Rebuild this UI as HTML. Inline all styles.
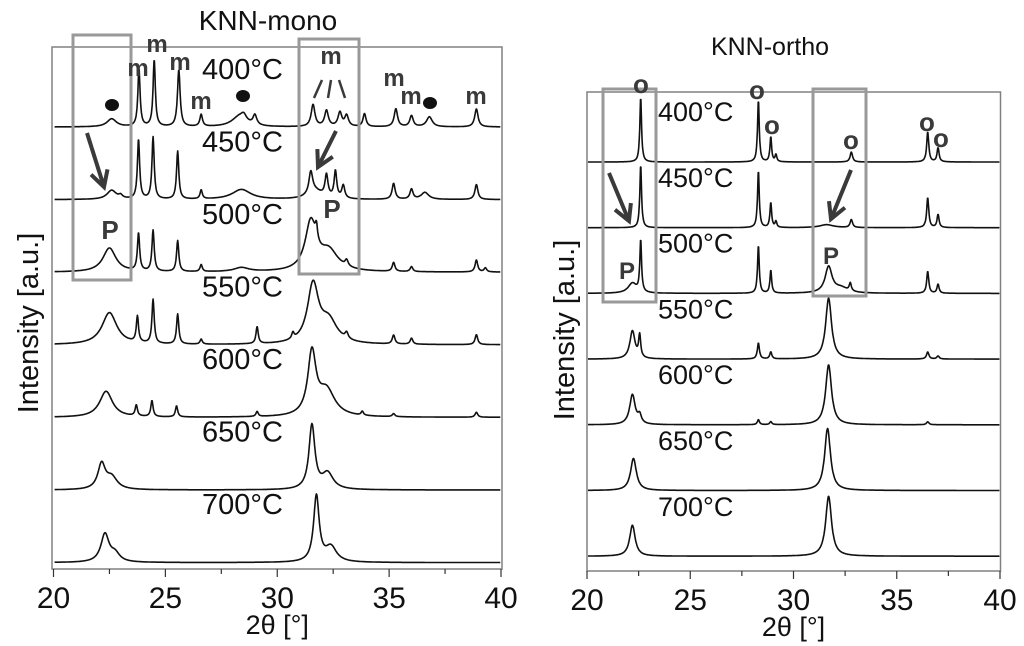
<!DOCTYPE html>
<html><head><meta charset="utf-8"><style>
html,body{margin:0;padding:0;background:#fff;}
svg{display:block;font-family:"Liberation Sans",sans-serif;}
</style></head><body>
<svg id="chart" width="1024" height="646" viewBox="0 0 1024 646" xmlns="http://www.w3.org/2000/svg">
<g id="left"></g>
<g id="right"></g>
</svg>
<script>
// ---- data ----
const xTicks = [20, 25, 30, 35, 40];
const tempLabels = ["400°C", "450°C", "500°C", "550°C", "600°C", "650°C", "700°C"];
// peaks: [2theta, height, halfwidth]
const monoPeaks = [
  [[22.6,8,0.25],[23.82,58,0.06],[24.5,67,0.06],[25.6,57,0.07],[26.6,12,0.07],[28.3,10,0.4],[28.5,6,0.15],[29.0,10,0.1],[31.6,22,0.1],[32.2,16,0.1],[32.8,14,0.1],[33.1,11,0.1],[33.9,13,0.08],[35.3,18,0.09],[36.0,11,0.09],[36.8,10,0.15],[38.9,18,0.09]],
  [[22.6,9,0.25],[23.0,3,0.1],[23.8,60,0.06],[24.45,62,0.06],[25.55,48,0.06],[26.6,9,0.06],[28.4,10,0.5],[31.5,22,0.1],[31.7,8,0.4],[32.2,22,0.08],[32.6,27,0.07],[32.95,13,0.08],[35.2,16,0.08],[36.0,10,0.08],[36.6,7,0.2],[38.9,15,0.08]],
  [[22.5,24,0.35],[23.8,38,0.06],[24.45,41,0.06],[25.55,31,0.06],[26.6,7,0.06],[28.4,4,0.4],[31.5,48,0.3],[31.75,14,0.06],[32.3,20,0.5],[33.1,6,0.08],[35.2,9,0.07],[36.0,5,0.07],[38.9,12,0.07],[39.3,4,0.07]],
  [[22.5,32,0.4],[23.75,26,0.06],[24.45,44,0.06],[25.55,30,0.06],[26.6,5,0.06],[29.1,17,0.06],[30.7,6,0.06],[31.6,58,0.3],[32.3,22,0.45],[33.1,6,0.08],[35.2,9,0.07],[36.0,6,0.07],[38.9,10,0.07]],
  [[22.35,26,0.35],[23.7,11,0.06],[24.4,16,0.06],[25.5,11,0.06],[29.1,5,0.06],[31.55,62,0.22],[32.2,26,0.45],[33.8,4,0.06],[35.2,3,0.07],[38.9,5,0.07]],
  [[22.15,25,0.2],[22.6,12,0.3],[31.55,64,0.16],[32.25,16,0.3]],
  [[22.3,28,0.22],[22.75,8,0.25],[31.75,66,0.15],[32.4,15,0.3]]
];
const orthoPeaks = [
  [[22.6,65,0.05],[28.3,62,0.05],[28.9,25,0.05],[29.15,7,0.05],[32.8,10,0.07],[36.5,30,0.06],[37.0,14,0.06]],
  [[22.6,63,0.05],[28.3,57,0.05],[28.9,25,0.05],[29.15,6,0.05],[31.6,3,0.4],[32.8,8,0.07],[36.5,30,0.06],[37.0,13,0.06]],
  [[22.6,52,0.05],[22.2,10,0.25],[28.3,48,0.05],[28.9,23,0.05],[31.7,26,0.2],[32.3,5,0.4],[32.75,8,0.06],[36.5,22,0.06],[37.0,9,0.06]],
  [[22.2,28,0.15],[22.55,22,0.06],[28.3,16,0.06],[28.9,7,0.06],[31.7,61,0.17],[36.5,7,0.07],[37.0,3,0.07]],
  [[22.2,30,0.16],[22.55,8,0.1],[28.3,5,0.06],[28.9,3,0.06],[31.7,60,0.17],[36.5,3,0.07]],
  [[22.25,32,0.17],[31.65,62,0.17]],
  [[22.2,31,0.16],[31.7,60,0.17]]
];

// ---- drawing ----
const NS = "http://www.w3.org/2000/svg";
function mk(parent, tag, attrs, text){
  const e = document.createElementNS(NS, tag);
  for (const k in attrs) e.setAttribute(k, attrs[k]);
  if (text !== undefined) e.textContent = text;
  parent.appendChild(e);
  return e;
}
function profile(peaks, x){
  let y = 0;
  for (const p of peaks){ const d = (x - p[0]) / p[2]; y += p[1] / (1 + d*d); }
  return y;
}
function panel(g, cfg, peaksList){
  const xs = v => cfg.x0 + (v - 20) / 20 * (cfg.x1 - cfg.x0);
  const frame = mk(g, "rect", {x:cfg.bx0, y:cfg.by0, width:cfg.bx1-cfg.bx0, height:cfg.by1-cfg.by0, fill:"none", stroke:"#808080", "stroke-width":1.5});
  
  
  for (let t = 20; t <= 40; t += 2.5){
    const major = xTicks.includes(t);
    const tk = mk(g, "line", {x1:xs(t), x2:xs(t), y1:cfg.by1, y2:cfg.by1 + (major?8:5), stroke:"#333", "stroke-width":1.2});
    
    
  }
  xTicks.forEach(t => {
    const tl = mk(g, "text", {x:xs(t), y:cfg.by1+39, "text-anchor":"middle", "font-size":30, fill:"#111"}, String(t));
    
    
  });
  const xt = mk(g, "text", {x:(cfg.x0+cfg.x1)/2, y:cfg.by1+65, "text-anchor":"middle", "font-size":27, fill:"#111"}, "2θ [°]");
  
  
  const yt = mk(g, "text", {x:0, y:0, transform:`translate(${cfg.ytx},${cfg.yty}) rotate(-90)`, "text-anchor":"middle", "font-size":29, fill:"#111"}, "Intensity [a.u.]");
  
  
  const tt = mk(g, "text", {x:cfg.titleX, y:cfg.titleY, "text-anchor":"middle", "font-size":cfg.titleSize, fill:"#111"}, cfg.title);
  
  
  peaksList.forEach((peaks, i) => {
    const base = cfg.base0 + i * cfg.step;
    let d = "";
    for (let v = 20.05; v <= 39.98; v += 0.02){
      const y = base - profile(peaks, v);
      d += (d ? "L" : "M") + xs(v).toFixed(1) + "," + y.toFixed(1);
    }
    const pth = mk(g, "path", {d:d, fill:"none", stroke:"#111", "stroke-width":1.6, "stroke-linejoin":"round"});
    
    
    const lb = mk(g, "text", {x:cfg.labX, y:cfg.lab0 + i*cfg.labStep, "font-size":cfg.labSize, fill:"#111"}, tempLabels[i]);
    
    
  });
}
const L = document.getElementById("left"), R = document.getElementById("right");
panel(L, {x0:53.5,x1:501,bx0:52,bx1:502,by0:47,by1:569,base0:127,step:72.6,labX:202,lab0:79,labStep:72.5,labSize:29,ytx:38,yty:323,title:"KNN-mono",titleX:268,titleY:30,titleSize:28}, monoPeaks);
panel(R, {x0:587,x1:1000,bx0:587,bx1:1000.5,by0:92,by1:571,base0:162,step:65.7,labX:658,lab0:121,labStep:65.8,labSize:27,ytx:574,yty:330,title:"KNN-ortho",titleX:770,titleY:55,titleSize:25}, orthoPeaks);

function box(g,x0,y0,x1,y1){
  const b = mk(g,"rect",{x:x0,y:y0,width:x1-x0,height:y1-y0,fill:"none",stroke:"#999",  "stroke-width":3});
  
  
}
function arrow(g,x1,y1,x2,y2){
  const a = mk(g,"g",{});
  
  
  mk(a,"line",{x1:x1,y1:y1,x2:x2,y2:y2,stroke:"#3a3a3a","stroke-width":4});
  const ang = Math.atan2(y2-y1,x2-x1), h=18;
  const p1=[x2-h*Math.cos(ang-0.5), y2-h*Math.sin(ang-0.5)], p2=[x2-h*Math.cos(ang+0.5), y2-h*Math.sin(ang+0.5)];
  mk(a,"polyline",{points:`${p1[0]},${p1[1]} ${x2},${y2} ${p2[0]},${p2[1]}`,fill:"none",stroke:"#3a3a3a","stroke-width":4});
}
function lab(g,x,y,t,size,name){
  const e = mk(g,"text",{x:x,y:y,"text-anchor":"middle","font-size":size,"font-weight":"bold",fill:"#3a3a3a"},t);
  
  
}
function dot(g,x,y){
  const e = mk(g,"ellipse",{cx:x,cy:y,rx:7,ry:6,fill:"#111"});
  
  
}
box(L,73,35,131,280); box(L,299,39,359,274);
box(R,603,89,656,302); box(R,813,89,866,296);
arrow(L,87,133,104,187); arrow(L,336,131,318,167);
arrow(R,609,173,629,221); arrow(R,851,170,831,219);
[[138,76],[157,52],[180,70],[201,109],[331,64],[394,86],[411,104],[476,104]].forEach(p=>lab(L,p[0],p[1],"m",24,"monoclinic-marker"));
dot(L,112,105); dot(L,243,96); dot(L,430,103);
mk(L,"line",{x1:322,y1:80,x2:314,y2:98,stroke:"#3a3a3a","stroke-width":2.5});
mk(L,"line",{x1:331,y1:80,x2:328,y2:98,stroke:"#3a3a3a","stroke-width":2.5});
mk(L,"line",{x1:339,y1:80,x2:345,y2:98,stroke:"#3a3a3a","stroke-width":2.5});
lab(L,110,239,"P",26,"perovskite-label"); lab(L,332,218,"P",26,"perovskite-label");
lab(R,627,279,"P",24,"perovskite-label"); lab(R,831,264,"P",24,"perovskite-label");
[[641,93],[757,99],[772,134],[851,149],[927,131],[941,147]].forEach(p=>lab(R,p[0],p[1],"o",26,"orthorhombic-marker"));
</script>
</body></html>
